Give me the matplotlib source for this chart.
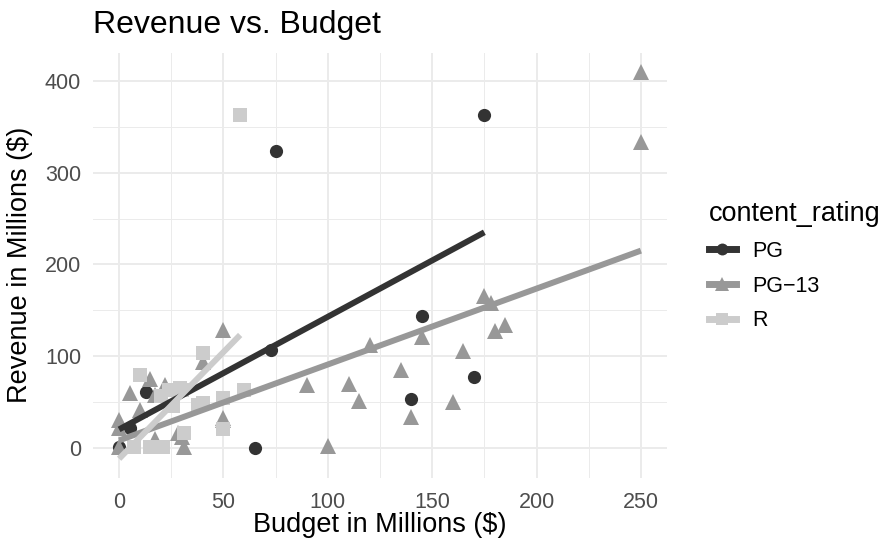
import matplotlib
matplotlib.use("Agg")
import matplotlib.pyplot as plt
from matplotlib.lines import Line2D

plt.rcParams['font.family'] = ['Liberation Sans', 'DejaVu Sans']

# ---- data (Budget, Revenue in millions) ----
pg_budget = [0, 5, 13, 65, 73, 75, 140, 145, 170, 175]
pg_revenue = [1, 21, 61, 0, 107, 324, 53, 144, 77, 363]

pg13_budget = [0, 0, 0, 5, 10, 15, 17, 17, 22, 28, 30, 31, 40, 50, 50, 50,
               90, 100, 110, 115, 120, 135, 140, 145, 160, 165, 175, 178,
               180, 185, 250, 250]
pg13_revenue = [1, 21, 30, 60, 41, 75, 58, 9, 68, 16, 12, 1, 94, 128, 32, 30,
                68, 2, 69, 51, 112, 85, 34, 121, 50, 105, 165, 158,
                127, 134, 410, 333]

r_budget = [7, 10, 15, 20, 21, 24, 26, 29, 30, 31, 38, 40, 40, 50, 50, 58, 60]
r_revenue = [1, 79, 1, 56, 1, 63, 45, 65, 63, 16, 47, 103, 49, 54, 20, 363, 63]

# linear trend lines: (x_start, x_end), (y_start, y_end)
pg_fit_x, pg_fit_y = [0, 175], [20, 235]
pg13_fit_x, pg13_fit_y = [0, 250], [8, 215]
r_fit_x, r_fit_y = [0, 58], [-12, 123]

labels = ["PG", "PG\u221213", "R"]
colors = ["#333333", "#989898", "#CCCCCC"]
markers = ["o", "^", "s"]
msizes = [9.5, 11.5, 10]

W, H = 884, 550
fig = plt.figure(figsize=(W / 100, H / 100), dpi=100)
pl, pr, pt, pb = 93, 667, 52.6, 478
ax = fig.add_axes([pl / W, 1 - pb / H, (pr - pl) / W, (pb - pt) / H])

series = [(pg_budget, pg_revenue, pg_fit_x, pg_fit_y),
          (pg13_budget, pg13_revenue, pg13_fit_x, pg13_fit_y),
          (r_budget, r_revenue, r_fit_x, r_fit_y)]

for (bx, ry, fx, fy), c, m, ms in zip(series, colors, markers, msizes):
    ax.plot(bx, ry, linestyle='none', marker=m, markersize=ms, color=c,
            markeredgewidth=0, zorder=3)
for (bx, ry, fx, fy), c in zip(series, colors):
    ax.plot(fx, fy, color=c, linewidth=4.3, solid_capstyle='butt', zorder=4)

ax.set_xlim(-12.5, 262.5)
ax.set_ylim(-33, 431)
ax.set_xticks([0, 50, 100, 150, 200, 250])
ax.set_yticks([0, 100, 200, 300, 400])
ax.set_xticks([25, 75, 125, 175, 225], minor=True)
ax.set_yticks([50, 150, 250, 350], minor=True)
ax.grid(True, which='major', color='#EBEBEB', linewidth=1.4, zorder=0)
ax.grid(True, which='minor', color='#EBEBEB', linewidth=0.7, zorder=0)
ax.set_axisbelow(True)
for s in ax.spines.values():
    s.set_visible(False)
ax.tick_params(which='both', length=0, labelsize=15.5, labelcolor='#4D4D4D')
ax.tick_params(axis='x', pad=10)
ax.tick_params(axis='y', pad=8.5)

fig.text((pl + pr) / 2 / W, 1 - 525 / H, "Budget in Millions ($)",
         fontsize=19.5, ha='center', va='center')
fig.text(20 / W, 1 - (pt + pb) / 2 / H, "Revenue in Millions ($)",
         fontsize=19.5, ha='center', va='center', rotation=90)
fig.text(pl / W, 1 - 33 / H, "Revenue vs. Budget", fontsize=23,
         ha='left', va='baseline')

handles = [Line2D([0], [0], color=c, marker=m, markersize=ms * 0.9,
                  linewidth=5, markeredgewidth=0)
           for c, m, ms in zip(colors, markers, msizes)]
leg = fig.legend(handles, labels, title="content_rating", loc='upper left',
                 bbox_to_anchor=(703 / W, 1 - 195 / H), frameon=False,
                 fontsize=15.5, title_fontsize=19.5, handlelength=1.25,
                 labelspacing=0.64, handletextpad=0.75, borderaxespad=0,
                 borderpad=0.28)
leg._legend_box.align = "left"

fig.savefig("out.png", dpi=100)
